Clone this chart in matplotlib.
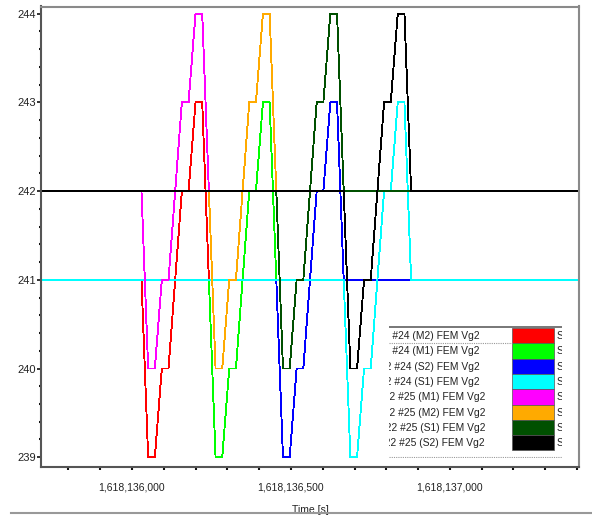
import matplotlib
matplotlib.use("Agg")
import matplotlib.pyplot as plt
from matplotlib.ticker import MultipleLocator, FuncFormatter
from matplotlib.patches import Rectangle

plt.rcParams['font.family'] = ['Liberation Sans', 'DejaVu Sans']

T0 = 1618130000  # times below are stored as seconds after this

# sample times of the four events
ev1_t = [6030, 6051, 6072, 6094, 6115, 6136, 6157, 6178, 6200, 6221, 6242]
ev2_t = [6242, 6263, 6284, 6306, 6327, 6348, 6369, 6390, 6412, 6433, 6454]
ev3_t = [6454, 6475, 6496, 6518, 6539, 6560, 6581, 6602, 6624, 6645, 6666]
ev4_t = [6666, 6687, 6708, 6730, 6751, 6772, 6793, 6814, 6836, 6857, 6878]
t_left = 5700
t_right = 7410

# values at those samples (first and last entries = level before / after)
red_v = [241, 241, 239, 239, 240, 240, 241, 242, 242, 243, 243, 241, 241]
green_v = [241, 241, 239, 239, 240, 240, 241, 242, 242, 243, 243, 241, 241]
blue_v = [241, 241, 239, 239, 240, 240, 241, 242, 242, 243, 243, 241, 241]
cyan_v = [241, 241, 239, 239, 240, 240, 241, 242, 242, 243, 243, 241, 241]
magenta_v = [242, 242, 240, 240, 241, 241, 242, 243, 243, 244, 244, 242, 242]
orange_v = [242, 242, 240, 240, 241, 241, 242, 243, 243, 244, 244, 242, 242]
dkgreen_v = [242, 242, 240, 240, 241, 241, 242, 243, 243, 244, 244, 242, 242]
black_v = [242, 242, 240, 240, 241, 241, 242, 243, 243, 244, 244, 242, 242]

labels = ["FEM2 #24 (M2) FEM Vg2", "FEM2 #24 (M1) FEM Vg2",
          "FEM2 #24 (S2) FEM Vg2", "FEM2 #24 (S1) FEM Vg2",
          "FEM22 #25 (M1) FEM Vg2", "FEM22 #25 (M2) FEM Vg2",
          "FEM22 #25 (S1) FEM Vg2", "FEM22 #25 (S2) FEM Vg2"]
colors = ["#ff0000", "#00ff00", "#0000ff", "#00ffff",
          "#ff00ff", "#ffaa00", "#005000", "#000000"]
series = [(ev1_t, red_v), (ev2_t, green_v), (ev3_t, blue_v), (ev4_t, cyan_v),
          (ev1_t, magenta_v), (ev2_t, orange_v), (ev3_t, dkgreen_v), (ev4_t, black_v)]

W, H = 592, 515
fig = plt.figure(figsize=(W / 100, H / 100), dpi=100)
ax = fig.add_axes([41 / W, 1 - 467 / H, (579 - 41) / W, (467 - 6.5) / H])

for (ev_t, vals), c in zip(series, colors):
    ts = [T0 + t for t in [t_left] + ev_t + [t_right]]
    ax.plot(ts, vals, color=c, lw=0.65, antialiased=False)

ax.set_xlim(T0 + 5714, T0 + 7406)
ax.set_ylim(238.89, 244.08)

ax.xaxis.set_major_locator(MultipleLocator(500))
ax.xaxis.set_minor_locator(MultipleLocator(100))
ax.xaxis.set_major_formatter(FuncFormatter(lambda v, p: f"{v:,.0f}"))
ax.yaxis.set_major_locator(MultipleLocator(1))
ax.yaxis.set_minor_locator(MultipleLocator(0.2))
ax.yaxis.set_major_formatter(FuncFormatter(lambda v, p: f"{v:.0f}"))

ax.tick_params(axis='x', which='both', length=2, width=1.5, color='#111',
               labelsize=7.5, labelcolor='#222', pad=9)
ax.tick_params(axis='y', which='major', length=3, width=1.2, color='#111',
               labelsize=8, labelcolor='#222', pad=0.5)
ax.tick_params(axis='y', which='minor', length=1.5, width=1.5, color='#111')

for side in ['left', 'bottom']:
    ax.spines[side].set_color('#555555')
    ax.spines[side].set_linewidth(1.5)
for side in ['top', 'right']:
    ax.spines[side].set_color('#8a8a8a')
    ax.spines[side].set_linewidth(1.5)

ax.set_xlabel("Time [s]", fontsize=7.5, color='#222', labelpad=9)

# separator line under the x label
fig.add_artist(plt.Line2D([11 / W, 1.0], [1 - 513 / H] * 2, color='#999999', lw=1.5))

# clipped legend table
lx0, lx1, ly0, ly1 = 389, 562, 326, 458
lg = fig.add_axes([lx0 / W, 1 - ly1 / H, (lx1 - lx0) / W, (ly1 - ly0) / H])
lg.set_xlim(0, lx1 - lx0)
lg.set_ylim(ly1 - ly0, 0)
lg.axis('off')

lg.plot([0, 173], [1, 1], color='#777777', lw=1.4, clip_on=True)
lg.plot([0, 123], [17, 17], color='#999999', lw=0.8, ls=(0, (1, 1)))
lg.plot([0, 173], [131, 131], color='#999999', lw=0.8, ls=(0, (1, 1)))

row_h = 15.3
for i, (lab, c) in enumerate(zip(labels, colors)):
    top = 2 + row_h * i
    lg.add_patch(Rectangle((123, top), 42, row_h, facecolor=c,
                           edgecolor='#555555', lw=0.5))
    xr = 91 if i < 4 else 96
    lg.text(xr, top + row_h / 2 + 0.5, lab, ha='right', va='center',
            fontsize=7.35, color='#222', clip_on=True)
    lg.text(168, top + row_h / 2 + 0.5, "Series", ha='left', va='center',
            fontsize=7.35, color='#222', clip_on=True)

fig.savefig("out.png", dpi=100)
